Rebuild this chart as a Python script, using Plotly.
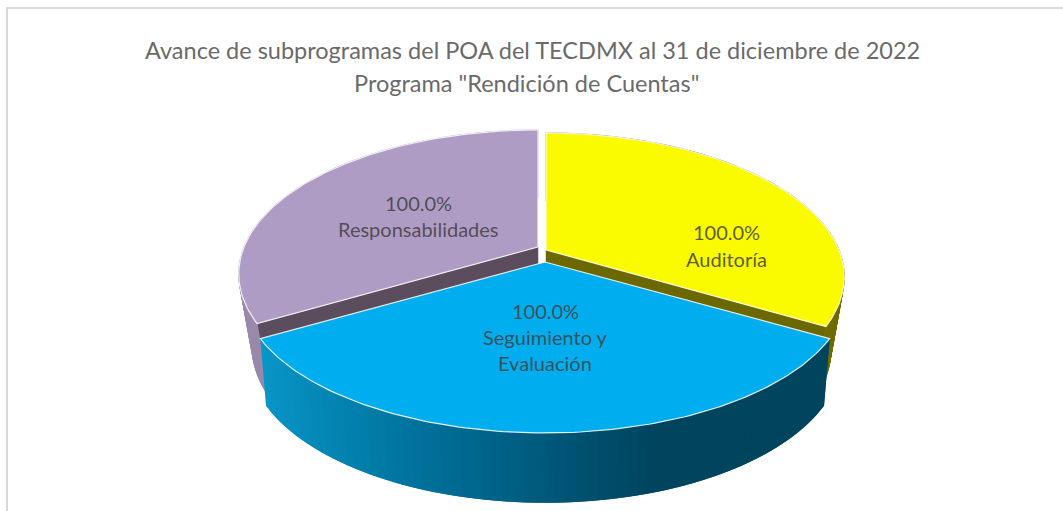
import numpy as np
import plotly.graph_objects as go

title_lines = ["Avance de subprogramas del POA del TECDMX al 31 de diciembre de 2022",
               'Programa "Rendición de Cuentas"']
categories = ["Auditoría", "Seguimiento y Evaluación", "Responsabilidades"]
values = [100.0, 100.0, 100.0]

top_colors = ["#FAFA00", "#00AEEF", "#AF9CC4"]
side_colors = ["#6E6B00", None, "#9B89AB"]
wall_colors = ["#6B6800", "#004560", "#5B4D5E"]
origins = [(546, 250), (545, 262), (538, 247)]
label_pos = [(726, [232, 259]), (545, [311, 337, 363]), (418, [203, 229])]
label_lines = [["Auditoría"], ["Seguimiento y", "Evaluación"], ["Responsabilidades"]]

A_SLICE = [293.0, 298.0, 294.0]
BOT_SLICE = [0.955, 0.98, 0.955]
DEPTH_SLICE = [72.0, 64.7, 72.0]
B, P = 139.0, 0.187
BOT_Y = 1.03
grad_x = [261, 300, 400, 500, 600, 660, 830]
grad_rgb = [(10, 150, 200), (6, 140, 188), (0, 118, 160), (0, 98, 135), (0, 78, 108), (0, 68, 94), (0, 68, 94)]


def edge(i, a):
    o = origins[i]
    a = np.radians(a)
    u, v = np.sin(a), np.cos(a)
    w = 1 + P * v
    x, y = A_SLICE[i] * u / w, -B * v / w
    return o[0] + x, o[1] + y, o[0] + BOT_SLICE[i] * x, o[1] + BOT_Y * y + DEPTH_SLICE[i]


def poly(fig, xs, ys, fill, line=None, lw=0.0):
    fig.add_trace(go.Scatter(x=list(xs), y=list(ys), mode="lines", fill="toself", fillcolor=fill,
                             line=dict(color=line or fill, width=lw), hoverinfo="skip", showlegend=False))


fig = go.Figure()
total = sum(values)
bounds = np.concatenate([[0], np.cumsum(values) / total * 360])
spans = list(zip(bounds[:-1], bounds[1:]))


def apex_wall(i, a):
    o = origins[i]
    x0, y0, x1, y1 = edge(i, a)
    d = DEPTH_SLICE[i]
    poly(fig, [o[0], x0, x1, o[0], o[0]], [o[1], y0, y1, o[1] + d, o[1]], wall_colors[i], lw=0.5)


def top_face(i):
    o = origins[i]
    arc = np.linspace(spans[i][0], spans[i][1], 120)
    pts = [edge(i, a) for a in arc]
    xs = [o[0]] + [p[0] for p in pts] + [o[0]]
    ys = [o[1]] + [p[1] for p in pts] + [o[1]]
    poly(fig, xs, ys, top_colors[i], "rgba(255,255,255,0.85)", 1.2)


for i in (2, 0):
    arc = np.linspace(spans[i][0], spans[i][1], 120)
    pts = [edge(i, a) for a in arc]
    apex_wall(i, spans[i][1] if i == 0 else spans[i][0])
    # Rim as separate quads in one trace, so its silhouette follows the tangent edge
    qx, qy = [], []
    for p, q in zip(pts[:-1], pts[1:]):
        qx += [p[0], q[0], q[2], p[2], p[0], None]
        qy += [p[1], q[1], q[3], p[3], p[1], None]
    poly(fig, qx, qy, side_colors[i], lw=0.8)
    top_face(i)

# Front slice: the rim is shaded in narrow strips, each overlapping the next
angles = np.linspace(spans[1][1], spans[1][0], 73)
for k in range(len(angles) - 1):
    a0, a1 = angles[k], angles[min(k + 2, len(angles) - 1)]
    arc = np.linspace(a0, a1, 6)
    pts = [edge(1, a) for a in arc]
    xm = edge(1, angles[k])[0] / 2 + edge(1, angles[k + 1])[0] / 2
    rgb = [int(np.interp(xm, grad_x, [c[j] for c in grad_rgb])) for j in range(3)]
    col = f"rgb({rgb[0]},{rgb[1]},{rgb[2]})"
    poly(fig, [p[0] for p in pts] + [p[2] for p in pts[::-1]],
         [p[1] for p in pts] + [p[3] for p in pts[::-1]], col)
top_face(1)

for j, line in enumerate(title_lines):
    fig.add_annotation(x=[532, 526][j], y=[50, 83][j], text=line, showarrow=False, xanchor="center", yanchor="middle",
                       font=dict(family="Lato", size=23.5, color="#6A6A6A"))

for i, (cx, ys) in enumerate(label_pos):
    lines = [f"{values[i]:.1f}%"] + label_lines[i]
    for yy, t in zip(ys, lines):
        fig.add_annotation(x=cx, y=yy, text=t, showarrow=False, xanchor="center", yanchor="middle",
                           font=dict(family="Lato", size=20, color="rgba(64,64,64,0.85)"))

fig.add_shape(type="line", x0=7, x1=7, y0=511, y1=8, line=dict(color="#D9D9D9", width=2), layer="below")
fig.add_shape(type="line", x0=6, x1=1063, y0=8, y1=8, line=dict(color="#D9D9D9", width=2), layer="below")

fig.update_layout(width=1063, height=511, margin=dict(l=0, r=0, t=0, b=0), showlegend=False,
                  paper_bgcolor="white", plot_bgcolor="white",
                  xaxis=dict(range=[0, 1063], visible=False, fixedrange=True),
                  yaxis=dict(range=[511, 0], visible=False, fixedrange=True))
fig.write_html("out.html", config={"displayModeBar": False},
               post_script="document.body.style.margin='0';document.body.style.overflow='hidden';")
